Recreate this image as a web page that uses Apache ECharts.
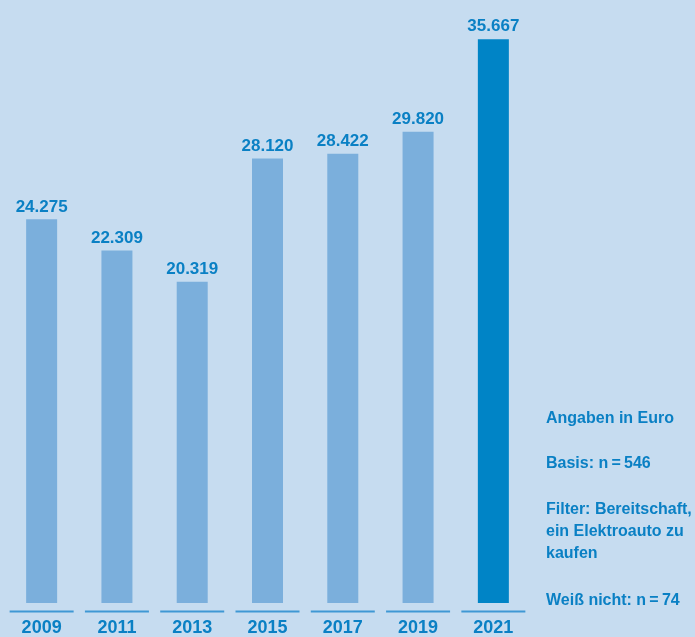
<!DOCTYPE html>
<html>
<head>
<meta charset="utf-8">
<script src="https://cdn.jsdelivr.net/npm/echarts@6/dist/echarts.min.js"></script>
<style>
  html, body { margin: 0; padding: 0; background: #c6dcf0; }
  #chart { width: 695px; height: 637px; }
</style>
</head>
<body>
<div id="chart"></div>
<script>
// Durchschnittlicher Preis, den Kaufinteressierte für ein Elektroauto ausgeben würden
const years = ['2009', '2011', '2013', '2015', '2017', '2019', '2021'];
const prices = [24275, 22309, 20319, 28120, 28422, 29820, 35667];
const notes = [
  'Angaben in Euro',
  'Basis: n\u2009=\u2009546',
  'Filter: Bereitschaft,\nein Elektroauto zu\nkaufen',
  'Weiß nicht: n\u2009=\u200974'
];

const BG = '#c6dcf0';
const BAR = '#7bafdc';
const BAR_LAST = '#0084c6';
const TEXT = '#0a80c4';
const RULE = '#3f98d4';
const FONT = '"Liberation Sans", Arial, sans-serif';

const chart = echarts.init(document.getElementById('chart'), null, { renderer: 'canvas' });

const fmt = v => v.toLocaleString('de-DE');

chart.setOption({
  backgroundColor: BG,
  animation: false,
  grid: { left: 4, right: 164, top: 34, bottom: 31, containLabel: false },
  xAxis: {
    type: 'category',
    data: years,
    axisLine: { show: false },
    axisTick: { show: false },
    axisLabel: {
      color: TEXT, fontFamily: FONT, fontWeight: 'bold', fontSize: 18,
      margin: 16, verticalAlign: 'top'
    }
  },
  yAxis: {
    type: 'value', min: 0, max: 36000,
    show: false, splitLine: { show: false }
  },
  series: [
    {
      type: 'bar',
      barWidth: 31,
      data: prices.map((v, i) => ({
        value: v,
        itemStyle: { color: i === prices.length - 1 ? BAR_LAST : BAR }
      })),
      label: {
        show: true, position: 'top', distance: 4,
        color: TEXT, fontFamily: FONT, fontWeight: 'bold', fontSize: 17,
        formatter: p => fmt(p.value)
      }
    },
    {
      // short baseline segment under every year
      type: 'custom',
      silent: true,
      data: years.map((y, i) => [i, 0]),
      renderItem: (params, api) => {
        const c = api.coord([api.value(0), 0]);
        const half = 32;
        return {
          type: 'line',
          shape: { x1: c[0] - half, y1: c[1] + 8.5, x2: c[0] + half, y2: c[1] + 8.5 },
          style: { stroke: RULE, lineWidth: 2 }
        };
      }
    }
  ],
  graphic: [
    { type: 'text', left: 546, top: 411, style: { text: notes[0], fill: TEXT, font: 'bold 16px ' + FONT } },
    { type: 'text', left: 546, top: 456, style: { text: notes[1], fill: TEXT, font: 'bold 16px ' + FONT } },
    { type: 'text', left: 546, top: 499, style: { text: notes[2], fill: TEXT, font: 'bold 16px ' + FONT, lineHeight: 22 } },
    { type: 'text', left: 546, top: 593, style: { text: notes[3], fill: TEXT, font: 'bold 16px ' + FONT } }
  ]
});
</script>
</body>
</html>
